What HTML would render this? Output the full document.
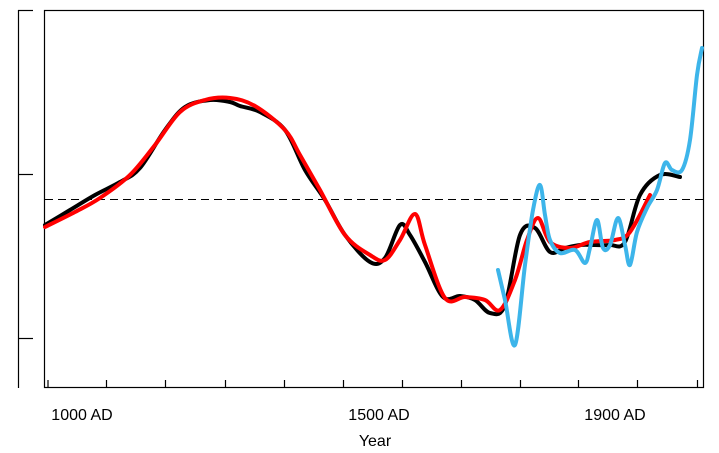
<!DOCTYPE html>
<html><head><meta charset="utf-8"><style>
body{margin:0;background:#fff}
svg{display:block}
text{font-family:"Liberation Sans",sans-serif;font-size:16px;fill:#000}
</style></head><body>
<svg id="s" width="719" height="453" viewBox="0 0 719 453">
<rect x="44.5" y="10.5" width="659" height="377" fill="none" stroke="#000" stroke-width="1.2"/>
<g stroke="#000" stroke-width="1.2">
<line x1="18.5" y1="10" x2="18.5" y2="388"/>
<line x1="18" y1="10.5" x2="33" y2="10.5"/>
<line x1="18" y1="174.5" x2="33" y2="174.5"/>
<line x1="18" y1="338.5" x2="33" y2="338.5"/>
<path d="M48 388v-8M106.5 388v-8M165.5 388v-8M225.5 388v-8M284.5 388v-8M343.5 388v-8M402.5 388v-8M461.5 388v-8M520.5 388v-8M578.5 388v-8M637.5 388v-8M697.5 388v-8"/>
</g>
<line x1="45" y1="199.5" x2="703" y2="199.5" stroke="#000" stroke-width="1" stroke-dasharray="8,5"/>
<text x="82" y="420" text-anchor="middle">1000 AD</text>
<text x="379" y="420" text-anchor="middle">1500 AD</text>
<text x="615" y="420" text-anchor="middle">1900 AD</text>
<text x="375" y="446" text-anchor="middle">Year</text>
<path id="k" fill="none" stroke="#000" stroke-width="4" stroke-linejoin="round" stroke-linecap="round"/>
<path id="r" fill="none" stroke="#f00" stroke-width="4" stroke-linejoin="round" stroke-linecap="round"/>
<path id="b" fill="none" stroke="#3db5ea" stroke-width="4" stroke-linejoin="round" stroke-linecap="round"/>
</svg>
<script>
function cr(p){let d="M"+p[0][0]+" "+p[0][1];for(let i=0;i<p.length-1;i++){const a=p[i-1]||p[i],b=p[i],c=p[i+1],e=p[i+2]||c;d+=" C"+(b[0]+(c[0]-a[0])/6)+" "+(b[1]+(c[1]-a[1])/6)+" "+(c[0]-(e[0]-b[0])/6)+" "+(c[1]-(e[1]-b[1])/6)+" "+c[0]+" "+c[1];}return d;}
const K=[[45,225],[70,210],[95,195],[120,182],[140,168],[165,130],[185,107],[210,100],[230,102],[240,106],[260,112],[285,130],[305,170],[325,200],[345,235],[370,262],[385,258],[400,225],[410,235],[425,262],[443,297],[460,296],[475,300],[490,313],[505,305],[520,235],[535,228],[550,252],[565,248],[580,245],[595,245],[610,245],[625,242],[640,195],[660,175],[680,177]];
const R=[[45,227],[75,212],[100,198],[130,175],[155,145],[180,112],[205,100],[230,98],[255,106],[285,130],[300,155],[320,190],[345,235],[370,255],[385,260],[400,240],[415,214],[425,245],[445,298],[465,297],[485,300],[500,310],[515,280],[527,240],[538,218],[550,242],[570,248],[590,242],[615,240],[630,232],[650,195]];
const B=[[498,270],[505,300],[515,345],[525,265],[533,210],[540,185],[545,215],[550,240],[560,253],[575,250],[585,263],[590,248],[597,220],[603,248],[610,245],[618,218],[625,245],[630,265],[637,232],[647,208],[657,190],[665,163],[672,170],[682,170],[690,140],[697,75],[702,48]];
document.getElementById("k").setAttribute("d",cr(K));
document.getElementById("r").setAttribute("d",cr(R));
document.getElementById("b").setAttribute("d",cr(B));
</script>
</body></html>
